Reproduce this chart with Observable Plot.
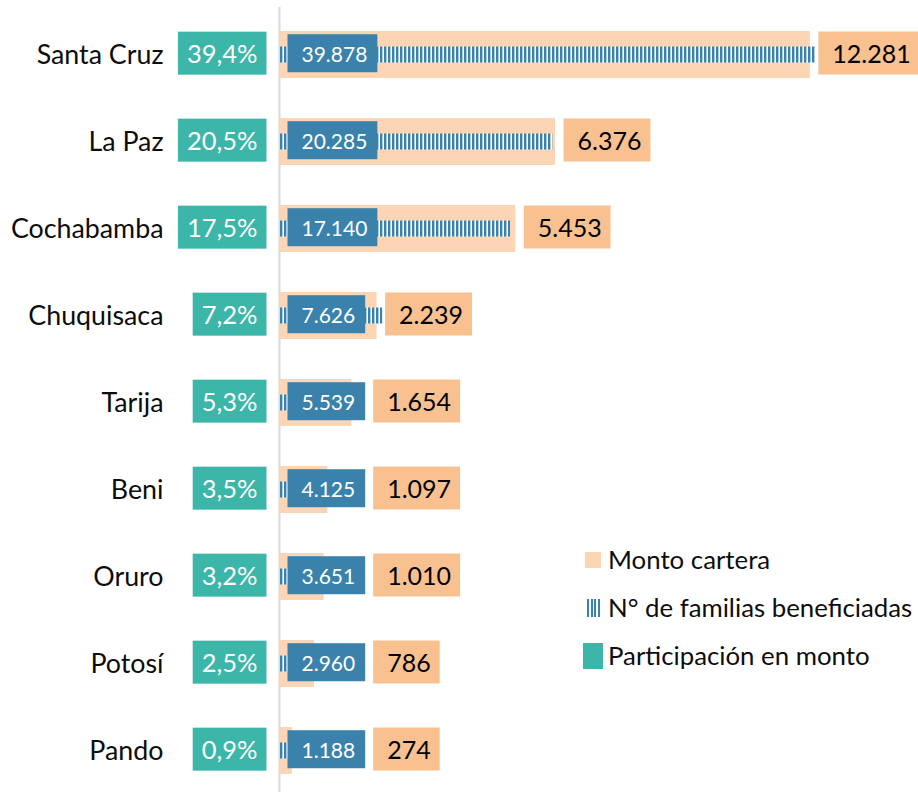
<!DOCTYPE html>
<html>
<head>
<meta charset="utf-8">
<script src="https://cdn.jsdelivr.net/npm/d3@7"></script>
<script src="https://cdn.jsdelivr.net/npm/@observablehq/plot@0.6"></script>
<style>
  html, body { margin: 0; padding: 0; background: #fff; }
  #wrap { position: relative; width: 918px; height: 792px; overflow: hidden; font-family: Lato, sans-serif; }
  #legend { position: absolute; left: 583px; top: 536px; font-size: 25.8px; color: #0d0d0d; }
  .li { position: relative; height: 48px; display: flex; align-items: center; }
  .sw { position: absolute; }
  .tx { position: absolute; left: 25px; white-space: nowrap; line-height: 1; }
</style>
</head>
<body>
<div id="wrap"><div id="legend"></div></div>
<script>
// ---- data ----
const categories = ["Santa Cruz", "La Paz", "Cochabamba", "Chuquisaca", "Tarija", "Beni", "Oruro", "Potosí", "Pando"];
const montoCartera = [12281, 6376, 5453, 2239, 1654, 1097, 1010, 786, 274];
const familiasBeneficiadas = [39878, 20285, 17140, 7626, 5539, 4125, 3651, 2960, 1188];
const participacionMonto = [39.4, 20.5, 17.5, 7.2, 5.3, 3.5, 3.2, 2.5, 0.9];
const seriesNames = ["Monto cartera", "N° de familias beneficiadas", "Participación en monto"];
const primaryMax = 14000;   // eje principal (monto)
const secondaryMax = 45000; // eje secundario (familias)

const data = categories.map((c, i) => ({
  cat: c, monto: montoCartera[i], familias: familiasBeneficiadas[i], part: participacionMonto[i]
}));

// ---- styles ----
const C = {
  peach: "#fcd5b5", orange: "#f9c190", blue: "#3a82ab", teal: "#3bb6a8", axis: "#d9d9d9", text: "#0d0d0d"
};
const W = 918, H = 792, mL = 280, mR = 34;
const FONT = "Lato, sans-serif";
const fsBlue = 21, fsGreen = 25.5, fsOrange = 25, fsCat = 26.8;

const loc = d3.formatLocale({decimal: ",", thousands: ".", grouping: [3], currency: ["", ""]});
const fmtInt = loc.format(",d");
const fmtPct = v => loc.format(".1f")(v) + "%";

// text measurement to place the monto labels after the familias label boxes
const ctx = document.createElement("canvas").getContext("2d");
const measure = (s, fs) => { ctx.font = `${fs}px ${FONT}`; return ctx.measureText(s).width; };
const k = (W - mL - mR) / primaryMax; // px per monto unit
const blueStart = 21, bluePadL = 14, bluePadR = 10, gap = 8, orangePadL = 14;

const plot = Plot.plot({
  width: W, height: H,
  marginLeft: mL, marginRight: mR, marginTop: 7, marginBottom: 0,
  style: {fontFamily: FONT, fontSize: fsCat + "px", color: C.text, background: "white"},
  x: {domain: [0, primaryMax], axis: null},
  y: {domain: categories, range: [7, 797], padding: 0, tickSize: 0, tickPadding: 117, label: null},
  marks: [
    Plot.ruleX([0], {stroke: C.axis, strokeWidth: 2, dx: -1}),
    Plot.barX(data, {y: "cat", x: "monto", fill: C.peach, insetTop: 20, insetBottom: 20}),
    Plot.barX(data, {y: "cat", x: d => d.familias * primaryMax / secondaryMax, fill: "url(#hatchFam)", insetTop: 35.5, insetBottom: 35.5}),
    Plot.text(data, {y: "cat", x: 0, text: d => fmtPct(d.part), textAnchor: "end", dx: -23, fill: "white", fontSize: fsGreen}),
    Plot.text(data, {y: "cat", x: 0, text: d => fmtInt(d.familias), textAnchor: "start", dx: blueStart, fill: "white", fontSize: fsBlue}),
    Plot.text(data, {
      y: "cat",
      x: d => Math.max(d.monto, (blueStart + measure(fmtInt(d.familias), fsBlue) + bluePadR) / k),
      text: d => fmtInt(d.monto), textAnchor: "start", dx: gap + orangePadL, fill: "black", fontSize: fsOrange
    })
  ]
});

document.getElementById("wrap").prepend(plot);

// pattern for the familias bars
const NS = "http://www.w3.org/2000/svg";
const defs = document.createElementNS(NS, "defs");
defs.innerHTML = `<pattern id="hatchFam" patternUnits="userSpaceOnUse" width="4" height="4">
  <rect width="4" height="4" fill="white"/><rect width="2.4" height="4" fill="${C.blue}"/></pattern>`;
plot.insertBefore(defs, plot.firstChild);

// background boxes behind data labels (text marks in order: green, blue, orange)
const textGroups = plot.querySelectorAll('g[aria-label="text"]');
function addBoxes(g, fill, padL, padR, h) {
  if (!g) return;
  g.querySelectorAll("text").forEach(t => {
    const bb = t.getBBox();
    const r = document.createElementNS(NS, "rect");
    r.setAttribute("x", bb.x - padL);
    r.setAttribute("width", bb.width + padL + padR);
    r.setAttribute("y", bb.y + bb.height / 2 - h / 2);
    r.setAttribute("height", h);
    const tr = t.getAttribute("transform");
    if (tr) r.setAttribute("transform", tr);
    r.setAttribute("fill", fill);
    t.parentNode.insertBefore(r, t);
  });
}
addBoxes(textGroups[0], C.teal, 9, 9, 43);
addBoxes(textGroups[1], C.blue, bluePadL, bluePadR, 38);
addBoxes(textGroups[2], C.orange, orangePadL, 9, 43);

// legend
const legend = document.getElementById("legend");
const swatches = [
  {w: 16, h: 16, l: 2, bg: C.peach},
  {w: 14, h: 18, l: 4, bg: `repeating-linear-gradient(90deg, ${C.blue} 0 2px, #fff 2px 3.7px)`},
  {w: 20, h: 26, l: 0, bg: C.teal}
];
seriesNames.forEach((name, i) => {
  const s = swatches[i];
  const row = document.createElement("div");
  row.className = "li";
  row.innerHTML = `<div class="sw" style="left:${s.l}px;width:${s.w}px;height:${s.h}px;background:${s.bg}"></div><div class="tx">${name}</div>`;
  legend.appendChild(row);
});
</script>
</body>
</html>
